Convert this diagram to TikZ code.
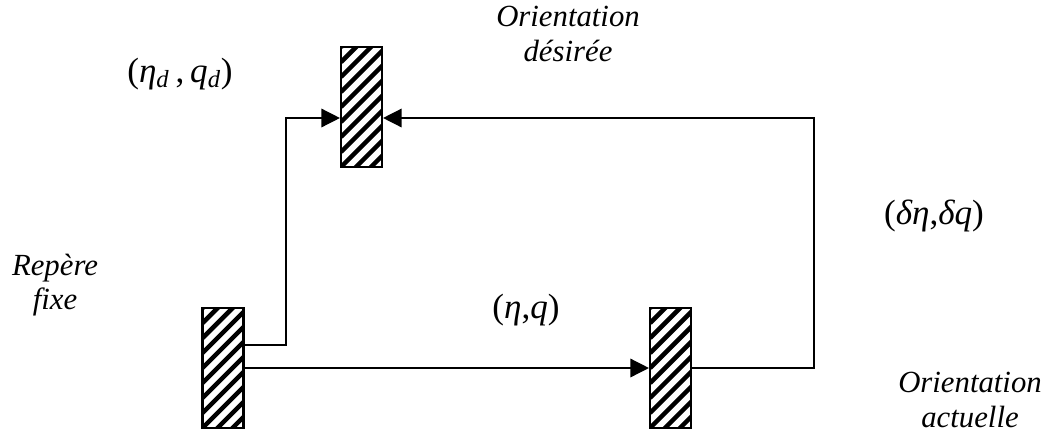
\documentclass[tikz,border=0pt]{standalone}
\usepackage{fontspec}
\setmainfont{Liberation Serif}
\usetikzlibrary{arrows.meta,positioning,calc}

\begin{document}
\begin{tikzpicture}[
    x=0.02cm, y=-0.02cm,
    hatchbox/.style={rectangle, draw=black, line width=1.2pt, minimum width=0.82cm, minimum height=2.4cm, inner sep=0pt,
      path picture={\foreach \k in {-3,...,8}{\draw[line width=2.6pt] ([yshift=\k*0.3cm]path picture bounding box.south west) -- ++(1.2cm,1.2cm);}}},
    arrow/.style={-{Triangle[length=0.37cm, width=0.37cm]}, line width=0.8pt},
    txt/.style={align=center, font=\fontsize{17.5}{19.5}\selectfont\itshape},
    mathtxt/.style={font=\fontsize{20}{22}\selectfont}
]
    \useasboundingbox (0,0) rectangle (1050,433);

    % hatched frames
    \node [hatchbox] (fixe) at (223,368) {};
    \node [hatchbox] (actuelle) at (670.5,368) {};
    \node [hatchbox] (desiree) at (361.5,107) {};

    % labels
    \node [txt] (t-desiree) at (568,34) {Orientation\\désirée};
    \node [txt] (t-fixe) at (55,285) {Repère\\fixe};
    \node [txt] (t-actuelle) at (970,400) {Orientation\\actuelle};
    \node [mathtxt] (q-d) at (180,74) {(\textit{η}\textsubscript{\textit{d}}\,,\,\textit{q}\textsubscript{\textit{d}})};
    \node [mathtxt] (q) at (526,310) {(\textit{η},\textit{q})};
    \node [mathtxt] (dq) at (934,216) {(\textit{δη},\textit{δq})};

    % connectors
    \coordinate (coin) at (286,118);
    \coordinate (retour) at (814,118);
    \draw [arrow] ([yshift=0.46cm]fixe.east) -| (coin) -- (coin -| desiree.west);
    \draw [arrow] (fixe.east) -- (actuelle.west);
    \draw [arrow] (actuelle.east) -| (retour) -- (retour -| desiree.east);
\end{tikzpicture}
\end{document}
